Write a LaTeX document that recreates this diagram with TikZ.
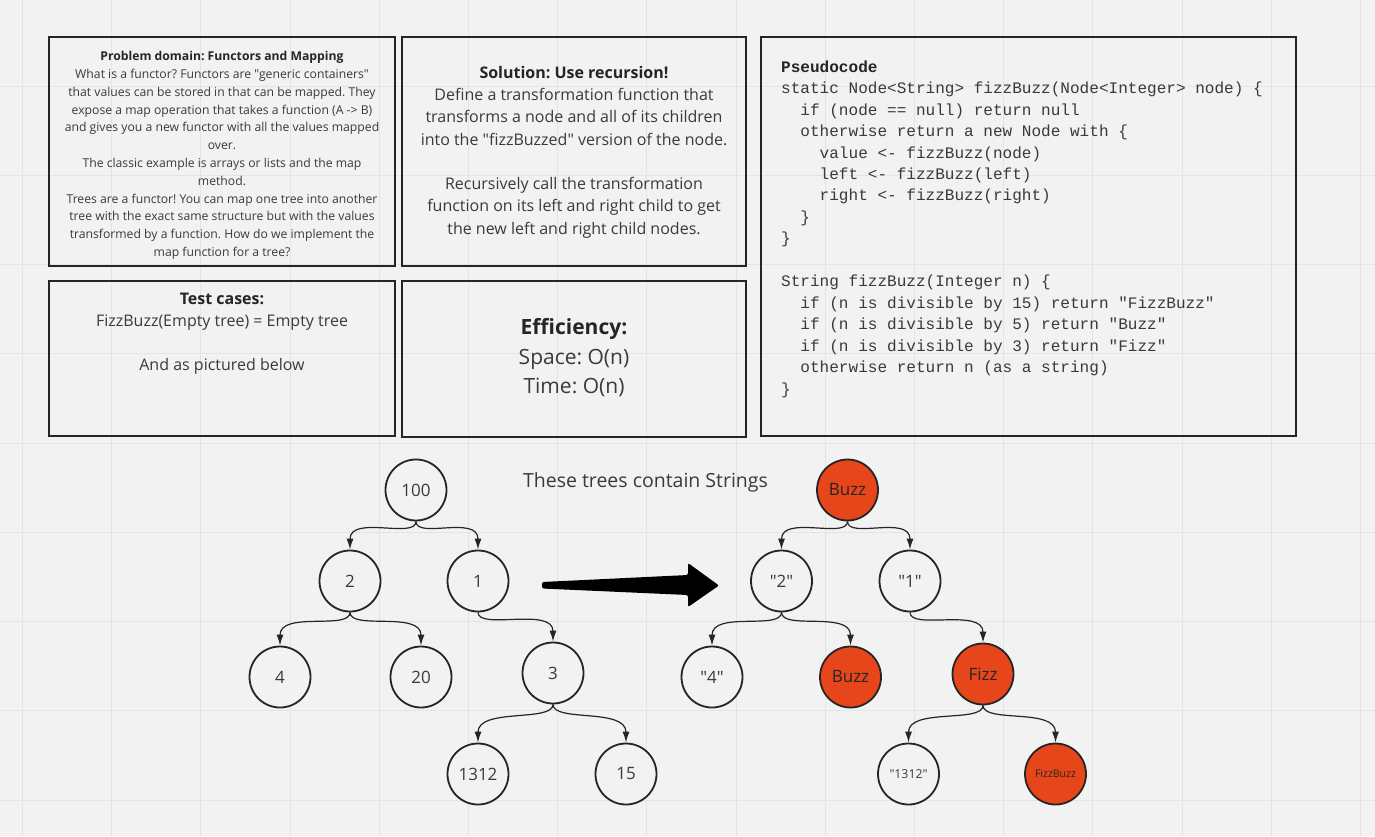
\documentclass[tikz,border=0pt]{standalone}
\usepackage{fontspec}
\setmainfont{Open Sans}
\newfontfamily\osans{Open Sans}
\newfontfamily\codefont{Liberation Mono}
\usetikzlibrary{arrows.meta}
\definecolor{bg}{HTML}{F2F2F2}
\definecolor{gridc}{HTML}{E4E4E4}
\definecolor{ink}{HTML}{252525}
\definecolor{txt}{HTML}{3A3A3A}
\definecolor{hot}{HTML}{E7461B}
\frenchspacing
\begin{document}
\frenchspacing
\begin{tikzpicture}[x=1pt,y=-1pt,
  panel/.style={draw=ink, line width=2.4pt, inner sep=0pt},
  tnode/.style={circle, draw=ink, line width=1.8pt, fill=bg, minimum size=61pt, inner sep=0pt, text=txt, font=\osans\fontsize{17}{20}\selectfont},
  hotnode/.style={tnode, fill=hot, text=ink},
  conn/.style={draw=ink, line width=1.2pt, -{Latex[length=11pt,width=7pt]}},
  body/.style={text=txt, align=center, inner sep=0pt},
]
\fill[bg] (0,0) rectangle (1375,836);
\useasboundingbox (0,0) rectangle (1375,836);
% grid
\foreach \k in {0,...,15} \draw[gridc, line width=1pt] ({22.4+89.2*\k},0) -- ({22.4+89.2*\k},836);
\foreach \k in {0,...,8} \draw[gridc, line width=1pt] (0,{86+89.25*\k}) -- (1375,{86+89.25*\k});

% panels
\node[panel, minimum width=346pt, minimum height=229pt] (p1) at (222,151.5) {};
\node[panel, minimum width=344pt, minimum height=229pt] (p2) at (574,151.5) {};
\node[panel, minimum width=346pt, minimum height=155pt] (p3) at (222,358.5) {};
\node[panel, minimum width=344pt, minimum height=156pt] (p4) at (574,359) {};
\node[panel, minimum width=535pt, minimum height=399pt] (p5) at (1028.5,236.5) {};

% panel texts
\node[body, font=\osans\fontsize{12.2}{17.8}\selectfont] (t1) at (222,155.5) {{\bfseries\color{ink}Problem domain: Functors and Mapping}\\
What is a functor? Functors are "generic containers"\\
that values can be stored in that can be mapped. They\\
expose a map operation that takes a function (A -> B)\\
and gives you a new functor with all the values mapped\\
over.\\
The classic example is arrays or lists and the map\\
method.\\
Trees are a functor! You can map one tree into another\\
tree with the exact same structure but with the values\\
transformed by a function. How do we implement the\\
map function for a tree?};

\node[body, font=\osans\fontsize{16}{22.3}\selectfont] (t2) at (574,152) {{\bfseries\color{ink}Solution: Use recursion!}\\
Define a transformation function that\\
transforms a node and all of its children\\
into the "fizzBuzzed" version of the node.\\[22.3pt]
Recursively call the transformation\\
function on its left and right child to get\\
the new left and right child nodes.};

\node[body, font=\osans\fontsize{16}{22}\selectfont] (t3) at (222,333.5) {{\bfseries\color{ink}Test cases:}\\
FizzBuzz(Empty tree) = Empty tree\\[22pt]
And as pictured below};

\node[body, font=\osans\fontsize{21}{29.5}\selectfont] (t4) at (574,358) {{\bfseries\color{ink}Efficiency:}\\
Space: O(n)\\
Time: O(n)};

\node[anchor=west, align=left, inner sep=0pt, text=txt, font=\codefont\fontsize{16.05}{21.47}\selectfont] (code) at (781,229) {{\bfseries\color{ink}Pseudocode}\\
static Node<String> fizzBuzz(Node<Integer> node) \{\\
\phantom{xx}if (node == null) return null\\
\phantom{xx}otherwise return a new Node with \{\\
\phantom{xxxx}value <- fizzBuzz(node)\\
\phantom{xxxx}left <- fizzBuzz(left)\\
\phantom{xxxx}right <- fizzBuzz(right)\\
\phantom{xx}\}\\
\}\\[21.47pt]
String fizzBuzz(Integer n) \{\\
\phantom{xx}if (n is divisible by 15) return "FizzBuzz"\\
\phantom{xx}if (n is divisible by 5) return "Buzz"\\
\phantom{xx}if (n is divisible by 3) return "Fizz"\\
\phantom{xx}otherwise return n (as a string)\\
\}};

\node[text=txt, inner sep=0pt, font=\osans\fontsize{19.5}{22}\selectfont] (lbl) at (645.5,482) {These trees contain Strings};

% left tree
\node[tnode] (n100) at (416,490) {100};
\node[tnode] (n2) at (350,581) {2};
\node[tnode] (n1) at (478,581) {1};
\node[tnode] (n4) at (280,677) {4};
\node[tnode] (n20) at (421,677) {20};
\node[tnode] (n3) at (553,673) {3};
\node[tnode] (n1312) at (478,774) {1312};
\node[tnode] (n15) at (626,774) {15};

% right tree
\node[hotnode] (rBuzz) at (847.5,490) {Buzz};
\node[tnode] (r2) at (781.5,581) {"2"};
\node[tnode] (r1) at (910,581) {"1"};
\node[tnode] (r4) at (712,677) {"4"};
\node[hotnode] (rBuzzb) at (850.5,677) {Buzz};
\node[hotnode] (rFizz) at (983,674) {Fizz};
\node[tnode, font=\osans\fontsize{12.3}{14}\selectfont] (r1312) at (908.5,774) {"1312"};
\node[hotnode, font=\osans\fontsize{10.5}{12}\selectfont] (rFB) at (1055.5,774) {FizzBuzz};

% connectors
\foreach \a/\b in {n100/n2, n100/n1, n2/n4, n2/n20, n1/n3, n3/n1312, n3/n15,
                   rBuzz/r2, rBuzz/r1, r2/r4, r2/rBuzzb, r1/rFizz, rFizz/r1312, rFizz/rFB}
  \draw[conn] (\a.south) .. controls +(0,18) and +(0,-35) .. (\b.north);

% big arrow
\fill[black, rounded corners=2pt] (542,582) -- (688,575) -- (688,563) -- (719,585.5) -- (688,607) -- (688,595) -- (542,588.5) -- cycle;
\end{tikzpicture}
\end{document}
